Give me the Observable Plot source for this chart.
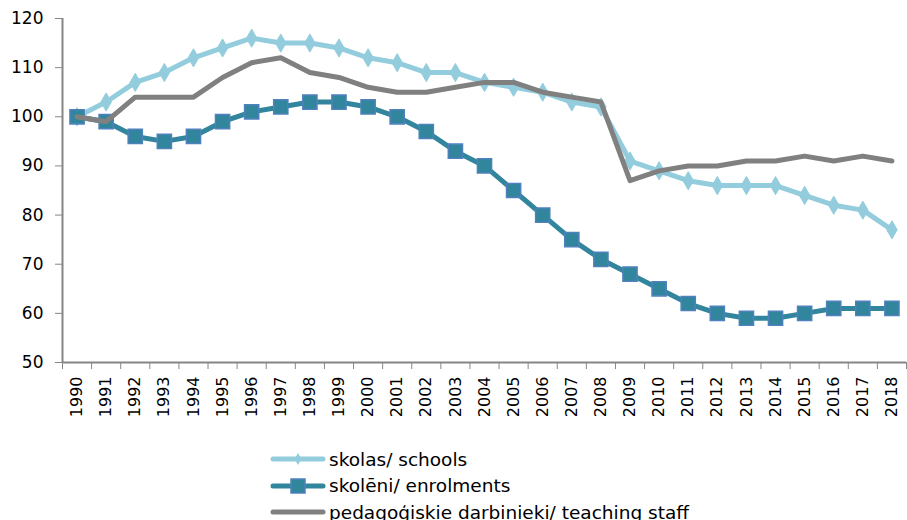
<!DOCTYPE html>
<html>
<head>
<meta charset="utf-8">
<script src="https://cdn.jsdelivr.net/npm/d3@7"></script>
<script src="https://cdn.jsdelivr.net/npm/@observablehq/plot@0.6"></script>
<style>
  body { margin: 0; background: #fff; font-family: "DejaVu Sans", Verdana, sans-serif; }
  #chart { position: absolute; left: 0; top: 0; }
  #legend { position: absolute; left: 270px; top: 446px; font-size: 18.5px; color: #000; }
  .row { display: flex; align-items: center; height: 26.5px; white-space: nowrap; }
  .row svg { margin-right: 3px; }
</style>
</head>
<body>
<div id="chart"></div>
<div id="legend"></div>
<script>
const years = [1990,1991,1992,1993,1994,1995,1996,1997,1998,1999,2000,2001,2002,2003,2004,2005,2006,2007,2008,2009,2010,2011,2012,2013,2014,2015,2016,2017,2018];
const schools = [100,103,107,109,112,114,116,115,115,114,112,111,109,109,107,106,105,103,102,91,89,87,86,86,86,84,82,81,77];
const enrolments = [100,99,96,95,96,99,101,102,103,103,102,100,97,93,90,85,80,75,71,68,65,62,60,59,59,60,61,61,61];
const teaching = [100,99,104,104,104,108,111,112,109,108,106,105,105,106,107,107,105,104,103,87,89,90,90,91,91,92,91,92,91];
const yTicks = [50,60,70,80,90,100,110,120];
const seriesNames = ["skolas/ schools", "skolēni/ enrolments", "pedagoģiskie darbinieki/ teaching staff"];
const colors = ["#93CDDD", "#31859C", "#808080"];

const toRows = vals => years.map((y, i) => ({year: y, value: vals[i]}));
const sRows = toRows(schools), eRows = toRows(enrolments), tRows = toRows(teaching);
const bounds = years.map(y => y - 0.5).concat([years[years.length-1] + 0.5]);

const chart = Plot.plot({
  width: 907,
  height: 440,
  marginLeft: 62,
  marginRight: 1,
  marginTop: 18,
  marginBottom: 78,
  style: {fontFamily: "'DejaVu Sans', Verdana, sans-serif", color: "#000", background: "#fff"},
  x: {type: "linear", domain: [1989.5, 2018.5]},
  y: {domain: [50, 120]},
  marks: [
    Plot.axisY({ticks: yTicks, tickSize: 7, tickPadding: 12, stroke: "#868686", fill: "#000", label: null}),
    Plot.axisX({ticks: years, tickSize: 0, tickPadding: 14, tickRotate: -90, tickFormat: d => String(d), fill: "#000", label: null}),
    Plot.axisX({ticks: bounds, tickSize: 7, tickFormat: () => "", stroke: "#868686", label: null}),
    Plot.ruleX([1989.5], {stroke: "#868686", strokeWidth: 2}),
    Plot.ruleY([50], {stroke: "#868686", strokeWidth: 2}),
    Plot.line(sRows, {x: "year", y: "value", stroke: colors[0], strokeWidth: 5, strokeLinejoin: "round"}),
    Plot.dot(sRows, {x: "year", y: "value", symbol: "diamond", r: 5.5, fill: colors[0], stroke: colors[0], strokeWidth: 1}),
    Plot.line(eRows, {x: "year", y: "value", stroke: colors[1], strokeWidth: 5, strokeLinejoin: "round"}),
    Plot.dot(eRows, {x: "year", y: "value", symbol: "square", r: 8, fill: colors[1], stroke: "#4F81BD", strokeWidth: 1.5}),
    Plot.line(tRows, {x: "year", y: "value", stroke: colors[2], strokeWidth: 5, strokeLinejoin: "round"})
  ]
});
document.getElementById("chart").appendChild(chart);

// tick label font sizes
d3.select(chart).selectAll("text").each(function() {
  const t = this.textContent.trim();
  const s = d3.select(this);
  s.style("font-family", "'DejaVu Sans', Verdana, sans-serif");
  if (/^(19|20)\d\d$/.test(t)) s.style("font-size", "16px");
  else if (/^\d+$/.test(t)) s.style("font-size", "17px");
});

// legend
const legend = d3.select("#legend");
seriesNames.forEach((name, i) => {
  const row = legend.append("div").attr("class", "row");
  const svg = row.append("svg").attr("width", 56).attr("height", 20);
  svg.append("line").attr("x1", 3).attr("x2", 53).attr("y1", 10).attr("y2", 10)
    .attr("stroke", colors[i]).attr("stroke-width", 5).attr("stroke-linecap", "round");
  if (i === 0) {
    svg.append("path").attr("d", d3.symbol(d3.symbolDiamond, 40)()).attr("transform", "translate(28,10)").attr("fill", colors[0]);
  } else if (i === 1) {
    svg.append("rect").attr("x", 21).attr("y", 3).attr("width", 14).attr("height", 14)
      .attr("fill", colors[1]).attr("stroke", "#4F81BD").attr("stroke-width", 1.5);
  }
  row.append("span").text(name);
});
</script>
</body>
</html>
